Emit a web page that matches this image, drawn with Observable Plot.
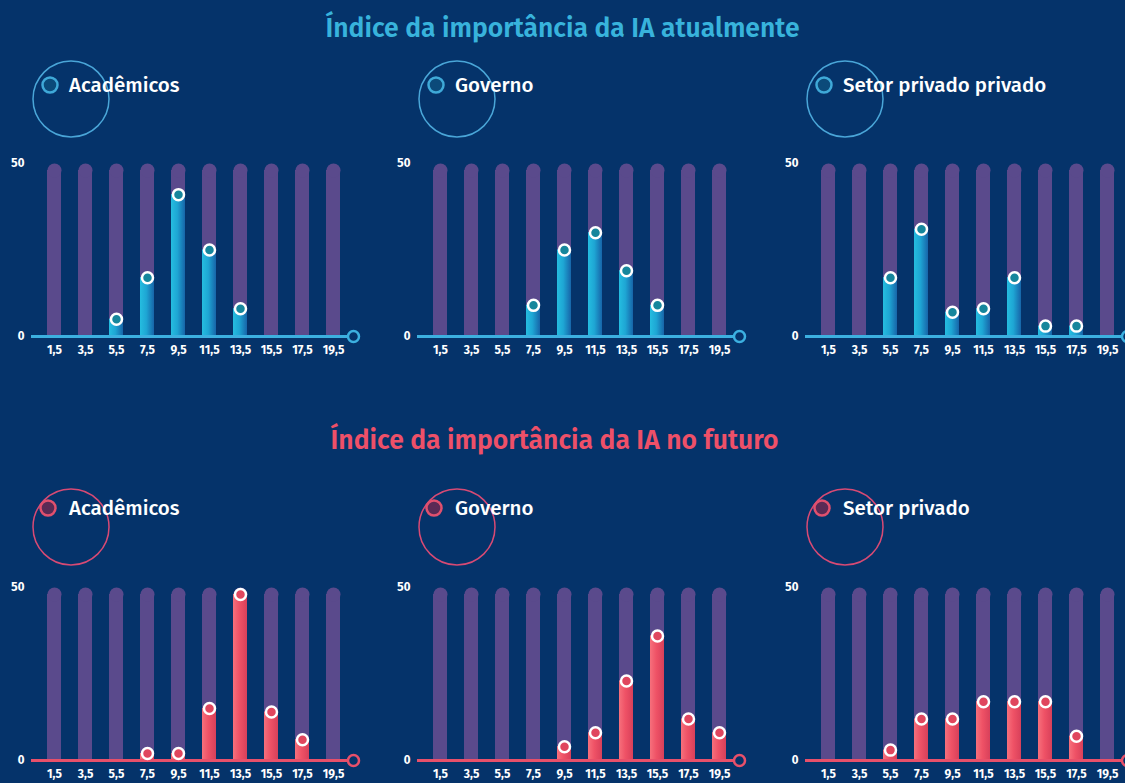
<!DOCTYPE html>
<html>
<head>
<meta charset="utf-8">
<script src="https://cdn.jsdelivr.net/npm/d3@7"></script>
<script src="https://cdn.jsdelivr.net/npm/@observablehq/plot@0.6"></script>
<style>
  html, body { margin: 0; padding: 0; background: #05336a; }
  #page { position: relative; width: 1125px; height: 783px; overflow: hidden; background: #05336a; font-family: "Fira Sans", Lato, "Noto Sans", sans-serif; }
  .title { position: absolute; left: 0; width: 1125px; text-align: center; font-size: 26.5px; font-weight: 600; }
  .panel { position: absolute; width: 380px; }
  .panel svg { max-width: none !important; }
  #legend { position: absolute; left: 0; top: 0; pointer-events: none; }
</style>
</head>
<body>
<div id="page">
  <div class="title" id="t1" style="top:12px;color:#38b3dc;">Índice da importância da IA atualmente</div>
  <div class="title" id="t2" style="top:424px;color:#ee5068;left:-8px;">Índice da importância da IA no futuro</div>
</div>
<svg width="0" height="0" style="position:absolute">
  <defs>
    <linearGradient id="gBlue" x1="0" x2="1" y1="0" y2="0">
      <stop offset="0" stop-color="#25bde0"/>
      <stop offset="0.45" stop-color="#1ea6d4"/>
      <stop offset="1" stop-color="#1765a9"/>
    </linearGradient>
    <linearGradient id="gRed" x1="0" x2="1" y1="0" y2="0">
      <stop offset="0" stop-color="#f6707c"/>
      <stop offset="0.45" stop-color="#ef5266"/>
      <stop offset="1" stop-color="#d8405a"/>
    </linearGradient>
  </defs>
</svg>
<script>
// ---- data ----
const categories = ["1,5","3,5","5,5","7,5","9,5","11,5","13,5","15,5","17,5","19,5"];
const yMax = 50;
const yTicks = [0, 50];

const academicosAtual = [0, 0, 5, 17, 41, 25, 8, 0, 0, 0];
const governoAtual    = [0, 0, 0, 9, 25, 30, 19, 9, 0, 0];
const privadoAtual    = [0, 0, 17, 31, 7, 8, 17, 3, 3, 0];

const academicosFuturo = [0, 0, 0, 2, 2, 15, 48, 14, 6, 0];
const governoFuturo    = [0, 0, 0, 0, 4, 8, 23, 36, 12, 8];
const privadoFuturo    = [0, 0, 3, 12, 12, 17, 17, 17, 7, 0];

const panelsTop = [
  {name: "Acadêmicos", values: academicosAtual},
  {name: "Governo", values: governoAtual},
  {name: "Setor privado privado", values: privadoAtual}
];
const panelsBottom = [
  {name: "Acadêmicos", values: academicosFuturo},
  {name: "Governo", values: governoFuturo},
  {name: "Setor privado", values: privadoFuturo}
];

// ---- styles ----
const navy = "#05336a";
const bgBar = "#5a4a8c";
const themes = {
  blue: {axis: "#3cb0e0", grad: "url(#gBlue)", dot: "#16869c", legendStroke: "#3fa9d8", legendFill: "#0b4a7a", ring: "#4aa6d8"},
  red:  {axis: "#e8506a", grad: "url(#gRed)", dot: "#e0465e", legendStroke: "#e0506e", legendFill: "#5a2a55", ring: "#d84a74"}
};

function panel(values, theme) {
  const bg = categories.map(c => ({cat: c}));
  const data = categories.map((c, i) => ({cat: c, v: values[i]})).filter(d => d.v > 0);
  return Plot.plot({
    width: 380,
    height: 226,
    marginLeft: 31,
    marginRight: 27,
    marginTop: 23,
    marginBottom: 30,
    style: {background: "transparent", color: "white", fontFamily: "'Fira Sans', Lato, 'Noto Sans', sans-serif", fontSize: "12px", fontWeight: 700, overflow: "visible", maxWidth: "none"},
    x: {domain: categories, range: [44.7, 342.7], paddingInner: 0.556, paddingOuter: 0, label: null, tickSize: 0, tickPadding: 9},
    y: {domain: [0, yMax], ticks: yTicks, label: null, tickSize: 0, tickPadding: 7},
    marks: [
      Plot.barY(bg, {x: "cat", y1: 0, y2: yMax, fill: bgBar, insetTop: 7}),
      Plot.dot(bg, {x: "cat", y: yMax, r: 7, dy: 7, fill: bgBar}),
      Plot.barY(data, {x: "cat", y: "v", fill: theme.grad}),
      Plot.ruleY([0], {stroke: theme.axis, strokeWidth: 3}),
      Plot.dot([0], {y: d => d, frameAnchor: "right", r: 5.5, stroke: theme.axis, strokeWidth: 2.5, fill: navy}),
      Plot.dot(data, {x: "cat", y: "v", r: 5.5, stroke: "white", strokeWidth: 2.5, fill: theme.dot})
    ]
  });
}

const page = document.getElementById("page");
const lefts = [0, 386, 774];
function place(list, top, theme) {
  list.forEach((p, i) => {
    const div = document.createElement("div");
    div.className = "panel";
    div.style.left = lefts[i] + "px";
    div.style.top = top + "px";
    div.appendChild(panel(p.values, theme));
    page.appendChild(div);
  });
}
place(panelsTop, 140, themes.blue);
place(panelsBottom, 564, themes.red);

// ---- legends (circles + text) ----
const ns = "http://www.w3.org/2000/svg";
const lg = document.createElementNS(ns, "svg");
lg.setAttribute("id", "legend");
lg.setAttribute("width", 1125);
lg.setAttribute("height", 783);
page.appendChild(lg);
function legend(list, rowY, ringY, smallDx, theme) {
  list.forEach((p, i) => {
    const x0 = lefts[i];
    const ring = document.createElementNS(ns, "circle");
    ring.setAttribute("cx", x0 + 71); ring.setAttribute("cy", ringY); ring.setAttribute("r", 38);
    ring.setAttribute("fill", "none"); ring.setAttribute("stroke", theme.ring); ring.setAttribute("stroke-width", 1.5);
    lg.appendChild(ring);
    const c = document.createElementNS(ns, "circle");
    c.setAttribute("cx", x0 + smallDx); c.setAttribute("cy", rowY); c.setAttribute("r", 7.5);
    c.setAttribute("fill", theme.legendFill); c.setAttribute("stroke", theme.legendStroke); c.setAttribute("stroke-width", 2.5);
    lg.appendChild(c);
    const t = document.createElementNS(ns, "text");
    t.setAttribute("x", x0 + 69); t.setAttribute("y", rowY + 7);
    t.setAttribute("fill", "white"); t.setAttribute("font-size", 20.5); t.setAttribute("font-weight", 500);
    t.setAttribute("font-family", "'Fira Sans', Lato, 'Noto Sans', sans-serif");
    t.textContent = p.name;
    lg.appendChild(t);
  });
}
legend(panelsTop, 85, 99, 50, themes.blue);
legend(panelsBottom, 508, 527, 48, themes.red);
</script>
</body>
</html>
